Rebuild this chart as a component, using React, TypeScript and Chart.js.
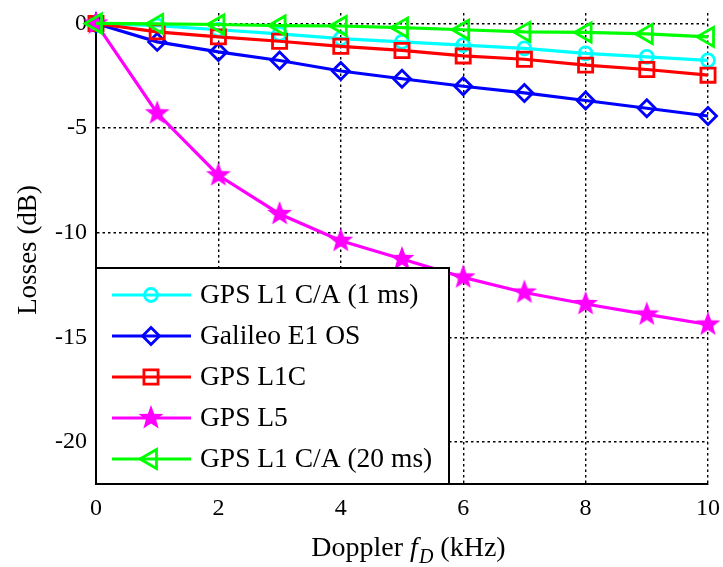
import React, { useEffect, useRef } from 'react';
import { Chart, registerables } from 'chart.js';

Chart.register(...registerables);

// ---- data ----
const dopplerKHz = [0, 1, 2, 3, 4, 5, 6, 7, 8, 9, 10];
const lossGpsL1CA1ms = [0, -0.1, -0.3, -0.5, -0.72, -0.88, -1.03, -1.19, -1.43, -1.6, -1.76];
const lossGalileoE1OS = [0, -0.88, -1.36, -1.77, -2.27, -2.64, -3.0, -3.32, -3.68, -4.05, -4.42];
const lossGpsL1C = [0, -0.4, -0.64, -0.85, -1.09, -1.29, -1.55, -1.71, -1.99, -2.2, -2.47];
const lossGpsL5 = [0, -4.29, -7.25, -9.1, -10.38, -11.25, -12.13, -12.85, -13.4, -13.9, -14.38];
const lossGpsL1CA20ms = [0, -0.02, -0.05, -0.1, -0.12, -0.2, -0.3, -0.4, -0.43, -0.5, -0.64];
const seriesNames = ['GPS L1 C/A (1 ms)', 'Galileo E1 OS', 'GPS L1C', 'GPS L5', 'GPS L1 C/A (20 ms)'];
const xTickValues = [0, 2, 4, 6, 8, 10];
const yTickValues = [0, -5, -10, -15, -20];
const xTitle = ['Doppler ', 'f', 'D', ' (kHz)'];
const yTitle = 'Losses (dB)';

const FONT = '"Liberation Serif", "Times New Roman", serif';

function makeStar(color: string, R: number, r: number): HTMLCanvasElement {
  const size = Math.ceil(2 * R + 4);
  const c = document.createElement('canvas');
  c.width = size;
  c.height = size;
  const ctx = c.getContext('2d')!;
  const cx = size / 2;
  const cy = size / 2;
  ctx.beginPath();
  for (let i = 0; i < 10; i++) {
    const rad = i % 2 === 0 ? R : r;
    const a = -Math.PI / 2 + (i * Math.PI) / 5;
    const x = cx + rad * Math.cos(a);
    const y = cy + rad * Math.sin(a);
    if (i === 0) ctx.moveTo(x, y);
    else ctx.lineTo(x, y);
  }
  ctx.closePath();
  ctx.fillStyle = color;
  ctx.fill();
  return c;
}

function drawMarker(ctx: CanvasRenderingContext2D, ds: any, x: number, y: number) {
  const style = ds.pointStyle;
  const r = ds.pointRadius;
  ctx.save();
  if (style instanceof HTMLCanvasElement) {
    ctx.drawImage(style, x - style.width / 2, y - style.height / 2);
    ctx.restore();
    return;
  }
  ctx.strokeStyle = ds.pointBorderColor;
  ctx.lineWidth = ds.pointBorderWidth;
  ctx.beginPath();
  if (style === 'circle') {
    ctx.arc(x, y, r, 0, Math.PI * 2);
  } else if (style === 'rectRot') {
    ctx.moveTo(x - r, y);
    ctx.lineTo(x, y - r);
    ctx.lineTo(x + r, y);
    ctx.lineTo(x, y + r);
    ctx.closePath();
  } else if (style === 'rect') {
    const s = Math.SQRT1_2 * r;
    ctx.rect(x - s, y - s, 2 * s, 2 * s);
  } else if (style === 'triangle') {
    let rad = ((ds.pointRotation || 0) * Math.PI) / 180;
    for (let i = 0; i < 3; i++) {
      const px = x + Math.sin(rad) * r;
      const py = y - Math.cos(rad) * r;
      if (i === 0) ctx.moveTo(px, py);
      else ctx.lineTo(px, py);
      rad += (2 * Math.PI) / 3;
    }
    ctx.closePath();
  }
  ctx.stroke();
  ctx.restore();
}

const legendBoxPlugin = {
  id: 'legendBox',
  afterDatasetsDraw(chart: any) {
    const ctx: CanvasRenderingContext2D = chart.ctx;
    const area = chart.chartArea;
    const left = area.left;
    const top = 268;
    const right = 449;
    const bottom = area.bottom;
    ctx.save();
    ctx.fillStyle = '#ffffff';
    ctx.fillRect(left, top, right - left, bottom - top);
    ctx.strokeStyle = '#000';
    ctx.lineWidth = 2;
    ctx.strokeRect(left, top, right - left, bottom - top);
    chart.data.datasets.forEach((ds: any, i: number) => {
      const y = 295 + i * 41;
      ctx.strokeStyle = ds.borderColor;
      ctx.lineWidth = ds.borderWidth;
      ctx.beginPath();
      ctx.moveTo(112, y);
      ctx.lineTo(191, y);
      ctx.stroke();
      drawMarker(ctx, ds, 151, y);
      ctx.fillStyle = '#000';
      ctx.font = `27.5px ${FONT}`;
      ctx.textBaseline = 'middle';
      ctx.textAlign = 'left';
      ctx.fillText(ds.label, 200, y + 1);
    });
    ctx.restore();
  },
  afterDraw(chart: any) {
    const ctx: CanvasRenderingContext2D = chart.ctx;
    ctx.save();
    ctx.fillStyle = '#000';
    // y title
    ctx.font = `27px ${FONT}`;
    ctx.textAlign = 'center';
    ctx.textBaseline = 'middle';
    ctx.translate(29, 250);
    ctx.rotate(-Math.PI / 2);
    ctx.fillText(yTitle, 0, 0);
    ctx.restore();

    // x title with italic f and subscript D
    ctx.save();
    ctx.fillStyle = '#000';
    ctx.textBaseline = 'alphabetic';
    ctx.textAlign = 'left';
    const fNormal = `28px ${FONT}`;
    const fItalic = `italic 28px ${FONT}`;
    const fSub = `italic 20px ${FONT}`;
    const parts = [
      { t: xTitle[0], f: fNormal, dy: 0 },
      { t: xTitle[1], f: fItalic, dy: 0 },
      { t: xTitle[2], f: fSub, dy: 7 },
      { t: xTitle[3], f: fNormal, dy: 0 },
    ];
    let total = 0;
    const widths = parts.map((p) => {
      ctx.font = p.f;
      const w = ctx.measureText(p.t).width;
      total += w;
      return w;
    });
    let x = 408 - total / 2;
    const baseline = 556;
    parts.forEach((p, i) => {
      ctx.font = p.f;
      ctx.fillText(p.t, x, baseline + p.dy);
      x += widths[i] + (i === 1 ? 1 : 0);
    });
    ctx.restore();
  },
};

const zeroPad = (s: any) => {
  s.paddingTop = 0;
  s.paddingBottom = 0;
  s.paddingLeft = 0;
  s.paddingRight = 0;
};

export default function App() {
  const canvasRef = useRef<HTMLCanvasElement | null>(null);

  useEffect(() => {
    const canvas = canvasRef.current;
    if (!canvas) return;
    const star = makeStar('#ff00ff', 13, 5.4);
    const toPts = (ys: number[]) => dopplerKHz.map((x, i) => ({ x, y: ys[i] }));
    const common = {
      borderWidth: 3.2,
      pointBorderWidth: 2.8,
      pointBackgroundColor: 'rgba(0,0,0,0)',
      pointHoverRadius: 0,
      fill: false,
      tension: 0,
      clip: false as any,
    };
    const chart = new Chart(canvas, {
      type: 'line',
      data: {
        datasets: [
          {
            ...common,
            label: seriesNames[0],
            data: toPts(lossGpsL1CA1ms),
            borderColor: '#00ffff',
            pointBorderColor: '#00ffff',
            pointStyle: 'circle',
            pointRadius: 6.5,
            order: 5,
          },
          {
            ...common,
            label: seriesNames[1],
            data: toPts(lossGalileoE1OS),
            borderColor: '#0000ff',
            pointBorderColor: '#0000ff',
            pointStyle: 'rectRot',
            pointRadius: 8.5,
            order: 4,
          },
          {
            ...common,
            label: seriesNames[2],
            data: toPts(lossGpsL1C),
            borderColor: '#ff0000',
            pointBorderColor: '#ff0000',
            pointStyle: 'rect',
            pointRadius: 10,
            order: 3,
          },
          {
            ...common,
            label: seriesNames[3],
            data: toPts(lossGpsL5),
            borderColor: '#ff00ff',
            pointBorderColor: '#ff00ff',
            pointStyle: star as any,
            pointRadius: 13,
            order: 2,
          },
          {
            ...common,
            label: seriesNames[4],
            data: toPts(lossGpsL1CA20ms),
            borderColor: '#00ff00',
            pointBorderColor: '#00ff00',
            pointStyle: 'triangle',
            pointRotation: -90,
            pointRadius: 11,
            order: 1,
          },
        ] as any,
      },
      options: {
        animation: false,
        responsive: false,
        devicePixelRatio: 1,
        events: [],
        layout: { autoPadding: false, padding: { top: 13, right: 15, left: 0, bottom: 0 } },
        plugins: {
          legend: { display: false },
          tooltip: { enabled: false },
          title: { display: false },
        },
        scales: {
          x: {
            type: 'linear',
            min: 0,
            max: 10,
            afterBuildTicks: (s: any) => {
              s.ticks = xTickValues.map((v) => ({ value: v }));
            },
            afterFit: (s: any) => {
              s.height = 83;
              zeroPad(s);
            },
            ticks: {
              color: '#000',
              font: { family: FONT, size: 24 },
              padding: 10,
              maxRotation: 0,
            },
            grid: { color: '#000', lineWidth: 1.4, drawTicks: false },
            border: { display: true, color: '#000', width: 2, dash: [2.5, 3] },
          },
          y: {
            type: 'linear',
            min: -22,
            max: 0.5,
            afterBuildTicks: (s: any) => {
              s.ticks = yTickValues.map((v) => ({ value: v }));
            },
            afterFit: (s: any) => {
              s.width = 96;
              zeroPad(s);
            },
            ticks: {
              color: '#000',
              font: { family: FONT, size: 24 },
              padding: 9,
            },
            grid: { color: '#000', lineWidth: 1.4, drawTicks: false },
            border: { display: true, color: '#000', width: 2, dash: [2.5, 3] },
          },
        },
      } as any,
      plugins: [legendBoxPlugin],
    });
    return () => chart.destroy();
  }, []);

  return (
    <div style={{ position: 'fixed', left: 0, top: 0, width: 723, height: 567, background: '#fff' }}>
      <canvas ref={canvasRef} width={723} height={567} style={{ display: 'block' }} />
    </div>
  );
}
